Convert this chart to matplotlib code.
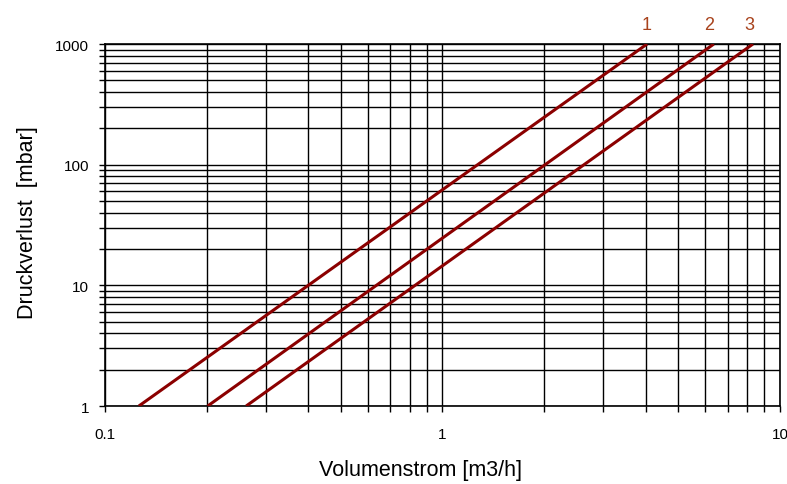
import numpy as np
import matplotlib.pyplot as plt
from matplotlib.ticker import LogLocator, NullFormatter

plt.rcParams['font.family'] = ['Liberation Sans', 'DejaVu Sans']

# Kennlinien: Volumenstrom [m3/h] bei 1 mbar und 1000 mbar
kurven = ["1", "2", "3"]
q_start = [0.126, 0.2015, 0.262]
q_ende = [4.04, 6.37, 8.32]
dp_start = [1, 1, 1]
dp_ende = [1000, 1000, 1000]
label_x = [4.04, 6.15, 8.1]

x_ticks = [0.1, 1, 10]
x_labels = ["0.1", "1", "10"]
y_ticks = [1, 10, 100, 1000]
y_labels = ["1", "10", "100", "1000"]

fig = plt.figure(figsize=(7.87, 4.85), dpi=100)
ax = fig.add_axes([0.1334, 0.1608, 0.8576, 0.7464])

for i in range(len(kurven)):
	ax.plot([q_start[i], q_ende[i]], [dp_start[i], dp_ende[i]], color='#8b0000', lw=2.2, solid_capstyle='butt', zorder=3)
	ax.text(label_x[i], 1440, kurven[i], color='#a8421c', fontsize=13, ha='center', va='center', clip_on=False)

ax.set_xscale('log')
ax.set_yscale('log')
ax.set_xlim(0.1, 10)
ax.set_ylim(1, 1000)

ax.set_xticks(x_ticks)
ax.set_xticklabels(x_labels)
ax.set_yticks(y_ticks)
ax.set_yticklabels(y_labels)
ax.xaxis.set_minor_locator(LogLocator(base=10, subs=np.arange(2, 10)))
ax.yaxis.set_minor_locator(LogLocator(base=10, subs=np.arange(2, 10)))
ax.xaxis.set_minor_formatter(NullFormatter())
ax.yaxis.set_minor_formatter(NullFormatter())

ax.grid(True, which='both', color='black', lw=1.0)
ax.tick_params(which='both', direction='out', length=4.3, width=1.0, color='black')
ax.tick_params(axis='x', which='major', pad=11, labelsize=11)
ax.tick_params(axis='y', which='major', pad=7, labelsize=11)
for s in ax.spines.values():
	s.set_linewidth(1.2)

ax.set_xlabel("Volumenstrom [m3/h]", fontsize=15.5)
ax.set_ylabel("Druckverlust  [mbar]", fontsize=15.5)
ax.xaxis.set_label_coords(0.467, -0.147)
ax.yaxis.set_label_coords(-0.099, 0.51)

fig.savefig("out.png", dpi=100)
